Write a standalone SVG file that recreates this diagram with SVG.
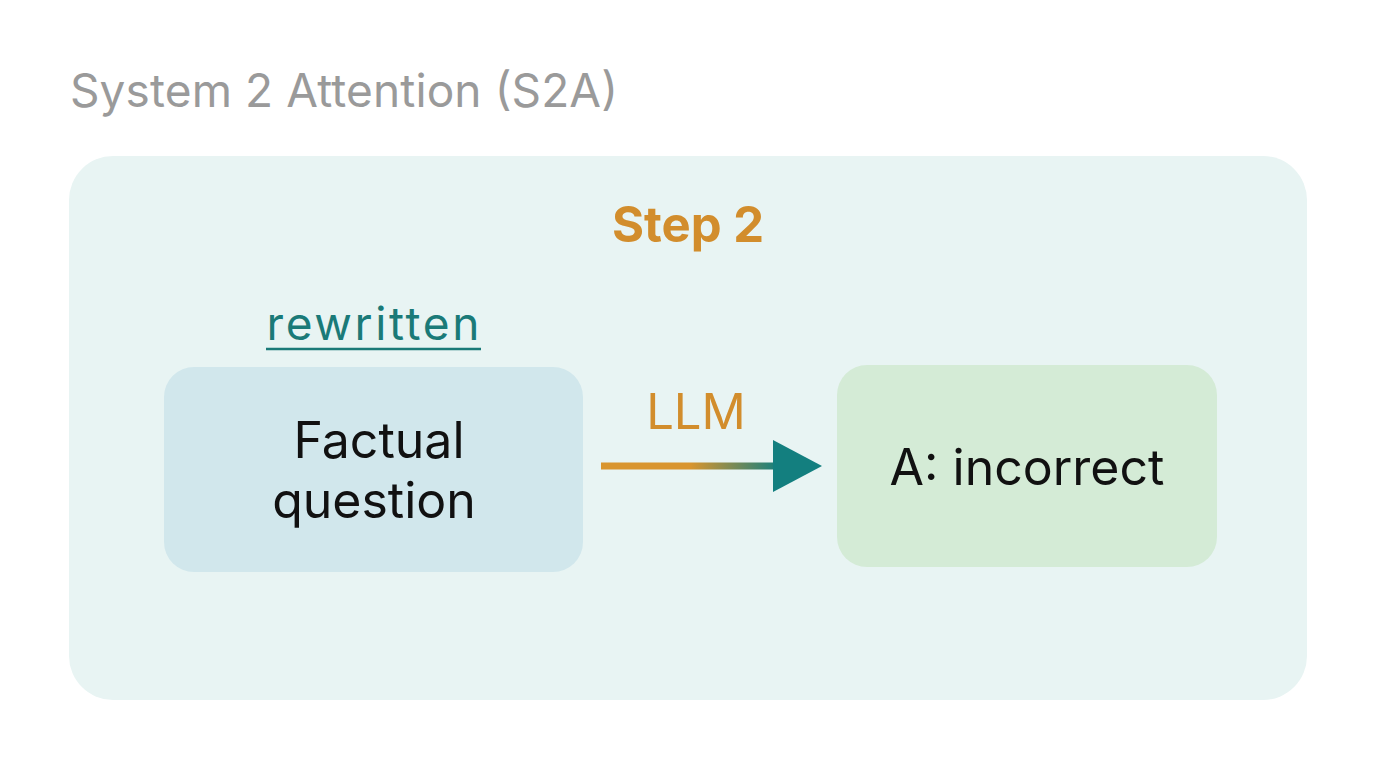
<svg xmlns="http://www.w3.org/2000/svg" width="1376" height="768" viewBox="0 0 1376 768">
<defs>
<linearGradient id="g" x1="600" y1="0" x2="780" y2="0" gradientUnits="userSpaceOnUse">
<stop offset="0.5" stop-color="#d9952f"/><stop offset="1" stop-color="#137f7f"/></linearGradient>
</defs>
<style>text{font-family:Inter,"Noto Sans",sans-serif}</style>
<rect width="1376" height="768" fill="#ffffff"/>
<text x="70" y="107" font-size="46" fill="#9a9a9a" textLength="548">System 2 Attention (S2A)</text>
<g id="panel"><rect x="69" y="156" width="1238" height="544" rx="44" fill="#e8f4f3"/>
<text x="688" y="242" font-size="49" font-weight="bold" fill="#d28d2c" text-anchor="middle">Step 2</text></g>
<g id="rewritten"><text x="373" y="340" font-size="46" fill="#1a7a78" text-anchor="middle" textLength="213">rewritten</text>
<line x1="266" y1="349" x2="481" y2="349" stroke="#1a7a78" stroke-width="2.5"/></g>
<g id="question"><rect x="164" y="367" width="419" height="205" rx="30" fill="#d1e7ec"/>
<text x="379" y="458" font-size="50" fill="#111" text-anchor="middle">Factual</text>
<text x="374" y="518" font-size="50" fill="#111" text-anchor="middle">question</text></g>
<g id="answer"><rect x="837" y="365" width="380" height="202" rx="30" fill="#d4ebd6"/>
<text x="1027" y="485" font-size="50" fill="#111" text-anchor="middle">A: incorrect</text></g>
<g id="connectors"><line x1="601" y1="466" x2="775" y2="466" stroke="url(#g)" stroke-width="7"/>
<path d="M773,440 L822,466 L773,492 z" fill="#137f7f"/>
<text x="696" y="429" font-size="49" fill="#d28d2c" text-anchor="middle">LLM</text></g>
</svg>
